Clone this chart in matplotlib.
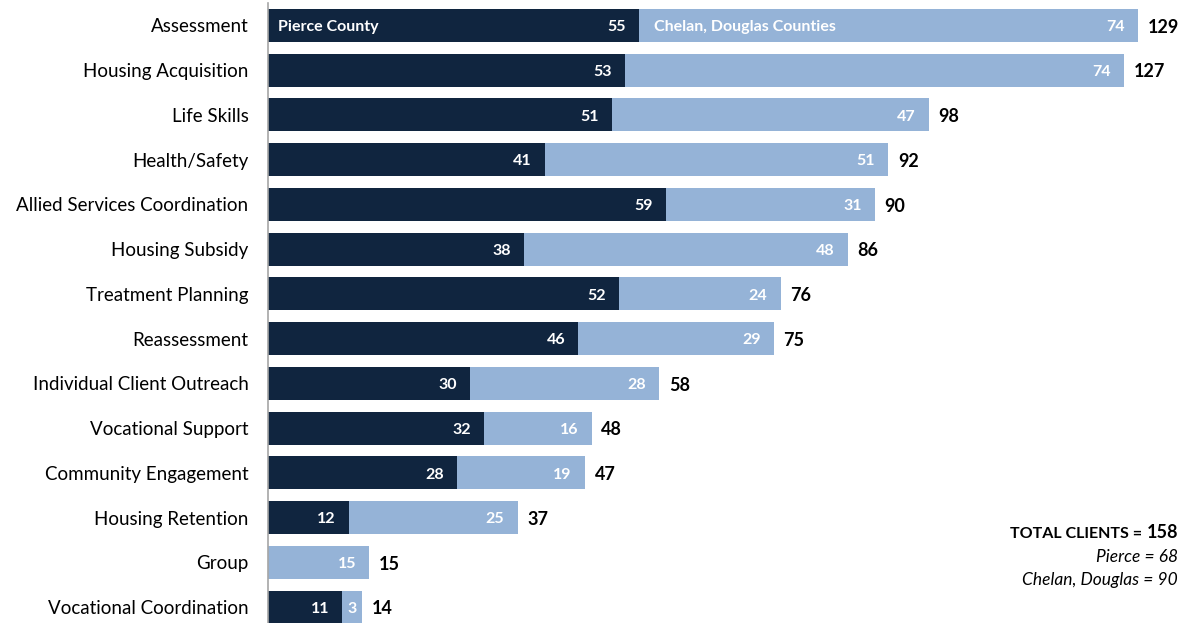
import matplotlib
matplotlib.use("Agg")
import matplotlib.pyplot as plt

plt.rcParams['font.family'] = ['Lato', 'DejaVu Sans']

categories = ["Assessment", "Housing Acquisition", "Life Skills", "Health/Safety",
              "Allied Services Coordination", "Housing Subsidy", "Treatment Planning",
              "Reassessment", "Individual Client Outreach", "Vocational Support",
              "Community Engagement", "Housing Retention", "Group", "Vocational Coordination"]
pierce = [55, 53, 51, 41, 59, 38, 52, 46, 30, 32, 28, 12, 0, 11]
chelan = [74, 74, 47, 51, 31, 48, 24, 29, 28, 16, 19, 25, 15, 3]
series_names = ["Pierce County", "Chelan, Douglas Counties"]
total_clients = 158
total_pierce = 68
total_chelan = 90

dark = "#10253F"
light = "#95B3D7"

W, H = 1185, 623
fig = plt.figure(figsize=(W / 100, H / 100), dpi=100)
left_px = 268
top_px = 3
bot_px = 629.5
ax = fig.add_axes([left_px / W, 1 - bot_px / H, 1 - left_px / W, (bot_px - top_px) / H])

n = len(categories)
y = list(range(n))
bh = 0.74
ax.barh(y, pierce, height=bh, color=dark, left=0)
ax.barh(y, chelan, height=bh, color=light, left=pierce)
ax.set_ylim(n - 0.5, -0.5)
ax.set_xlim(0, (W - left_px) / 6.744)

inner_fs = 11.5
dy = -1.2


def seg_label(start, val, row):
    if val <= 0:
        return
    if val < 5:
        ax.annotate(str(val), xy=(start + val / 2, row), xytext=(0, dy), textcoords="offset points",
                    ha="center", va="center", color="white", fontsize=inner_fs, fontweight="bold")
    else:
        ax.annotate(str(val), xy=(start + val, row), xytext=(-9.5, dy), textcoords="offset points",
                    ha="right", va="center", color="white", fontsize=inner_fs, fontweight="bold")


for i in range(n):
    p, c = pierce[i], chelan[i]
    seg_label(0, p, i)
    seg_label(p, c, i)
    ax.annotate(str(p + c), xy=(p + c, i), xytext=(7, dy), textcoords="offset points",
                ha="left", va="center", color="black", fontsize=13, fontweight="bold")

ax.annotate(series_names[0], xy=(0, 0), xytext=(7, dy), textcoords="offset points",
            ha="left", va="center", color="white", fontsize=inner_fs, fontweight="bold")
ax.annotate(series_names[1], xy=(pierce[0], 0), xytext=(11, dy), textcoords="offset points",
            ha="left", va="center", color="white", fontsize=inner_fs, fontweight="bold")

ax.set_yticks(y)
ax.set_yticklabels(categories, fontsize=13.5)
ax.tick_params(axis="y", length=0, pad=14)
ax.set_xticks([])
for s in ["top", "right", "bottom"]:
    ax.spines[s].set_visible(False)
ax.spines["left"].set_color("#A6A6A6")
ax.spines["left"].set_linewidth(1.2)

rx = 1178 / W
t158 = fig.text(rx, 1 - 533 / H, str(total_clients), ha="right", va="center",
                fontsize=13, fontweight="bold")
fig.canvas.draw()
ax.annotate("TOTAL CLIENTS = ", xy=(0, 0.45), xycoords=t158, ha="right", va="center",
            fontsize=11.5, fontweight="bold", annotation_clip=False)
fig.text(rx, 1 - 557 / H, f"Pierce = {total_pierce}", ha="right", va="center",
         fontsize=12.5, style="italic")
fig.text(rx, 1 - 580 / H, f"Chelan, Douglas = {total_chelan}", ha="right", va="center",
         fontsize=12.5, style="italic")

fig.savefig("out.png", dpi=100)
